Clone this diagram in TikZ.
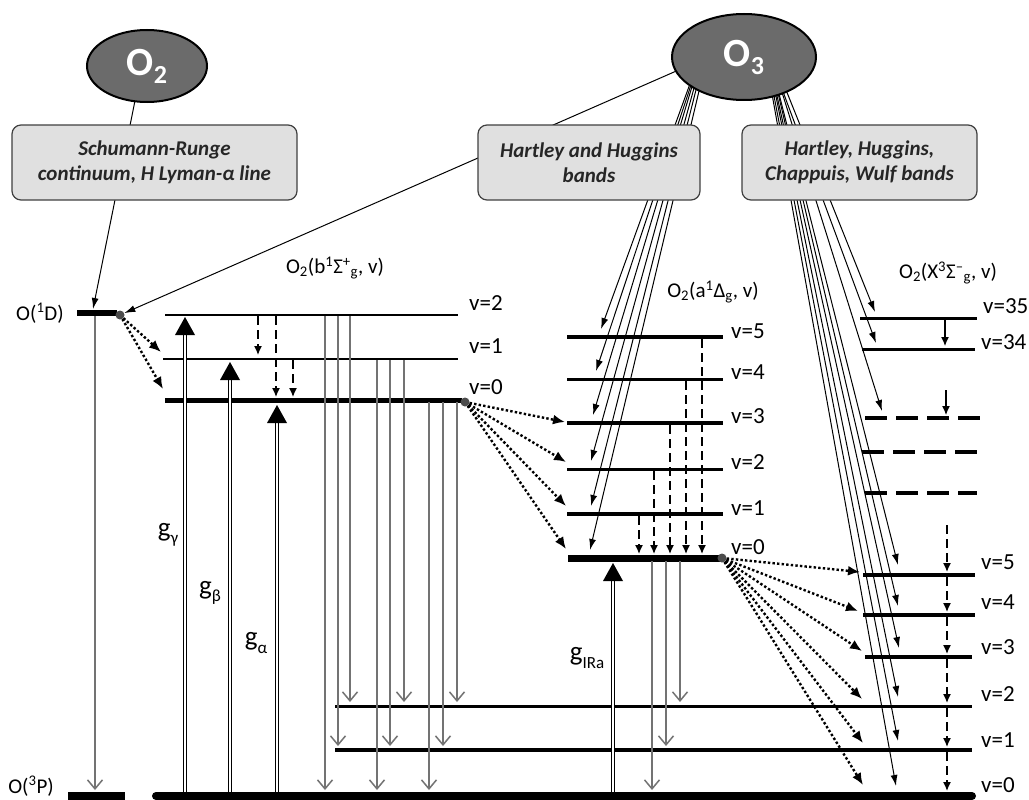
\documentclass[tikz,border=0pt]{standalone}
\usepackage{fontspec}
\setmainfont{Carlito}
\usetikzlibrary{arrows.meta,shapes.geometric}
\pgfdeclarelayer{back}
\pgfdeclarelayer{bg}
\pgfsetlayers{back,bg,main}
\newcommand{\gsub}[1]{g\raisebox{-0.28em}{\fontsize{17}{17}\selectfont #1}}
\begin{document}
\begin{tikzpicture}[x=1pt,y=-1pt,
  lab/.style={inner sep=0pt, font=\fontsize{21}{24}\selectfont},
  vlab/.style={inner sep=0pt, anchor=west, font=\fontsize{23}{24}\selectfont},
  glab/.style={inner sep=0pt, font=\fontsize{27}{28}\selectfont},
  mol/.style={ellipse, draw=black, line width=2pt, fill=black!58, text=white, font=\bfseries\fontsize{40}{40}\selectfont, inner sep=0pt},
  band/.style={draw=black!75, line width=1.2pt, fill=black!12, rounded corners=9pt, align=center, font=\bfseries\itshape\fontsize{21}{25}\selectfont, text=black!85, inner sep=0pt},
  sa/.style={line width=1pt, -{Latex[length=11pt,width=7pt]}},
  ga/.style={draw=black!55, line width=1.5pt, -{Straight Barb[length=9pt,width=15pt]}},
  da/.style={line width=1.4pt, dash pattern=on 9pt off 5pt, -{Latex[length=9pt,width=8pt]}},
  xa/.style={line width=1.2pt, -{Latex[length=9pt,width=8pt]}},
  dta/.style={line width=2.4pt, dash pattern=on 2.4pt off 2.2pt, -{Latex[length=12pt,width=10pt]}},
  dbl/.style={draw=black, line width=1.1pt, double=white, double distance=2pt},
  dot/.style={circle, fill=black!70, inner sep=0pt, minimum size=9pt},
]
\useasboundingbox (0,0) rectangle (1029,800);
\begin{pgfonlayer}{back}
\fill[white] (0,0) rectangle (1029,800);
\end{pgfonlayer}

% ---------- molecules and bands ----------
\node[mol, minimum width=120pt, minimum height=72pt] (O2) at (147,66) {O\raisebox{-0.2em}{\fontsize{26}{26}\selectfont 2}};
\node[mol, minimum width=144pt, minimum height=86pt] (O3) at (744,57) {O\raisebox{-0.2em}{\fontsize{26}{26}\selectfont 3}};
\node[band, minimum width=285pt, minimum height=75pt] (SR) at (154.5,162.5) {Schumann-Runge\\continuum, H Lyman-α line};
\node[band, minimum width=222pt, minimum height=75pt] (HH) at (589,162.5) {Hartley and Huggins\\bands};
\node[band, minimum width=235pt, minimum height=75pt] (HC) at (859.5,162.5) {Hartley, Huggins,\\Chappuis, Wulf bands};

% ---------- state labels ----------
\node[lab] (lb) at (335,268) {O\textsubscript{2}(b\textsuperscript{1}Σ\textsuperscript{+}\textsubscript{g}, v)};
\node[lab] (la) at (713,292) {O\textsubscript{2}(a\textsuperscript{1}Δ\textsubscript{g}, v)};
\node[lab] (lx) at (948,273) {O\textsubscript{2}(X\textsuperscript{3}Σ\textsuperscript{–}\textsubscript{g}, v)};
\node[lab] (l1d) at (40,313) {O(\textsuperscript{1}D)};
\node[lab] (l3p) at (31,786) {O(\textsuperscript{3}P)};

% ---------- levels ----------
\draw[line width=6pt] (77,313) -- (117,313);
\draw[line width=8pt] (68,796) -- (125,796);
\draw[line width=2.2pt] (165,315) -- (458,315);
\draw[line width=2.8pt] (163,359) -- (458,359);
\draw[line width=5pt] (165,400) -- (462,400);
\draw[line width=4.5pt] (567,337) -- (723,337);
\draw[line width=3pt] (567,379) -- (723,379);
\draw[line width=4.5pt] (567,423) -- (723,423);
\draw[line width=3pt] (567,469) -- (723,469);
\draw[line width=4pt] (567,514) -- (723,514);
\draw[line width=7pt] (568,558) -- (720,558);
\draw[line width=3pt] (860,318) -- (977,318);
\draw[line width=3pt] (862,349) -- (975,349);
\draw[line width=4.5pt, dash pattern=on 22pt off 9pt] (865,418) -- (982,418);
\draw[line width=4.5pt, dash pattern=on 22pt off 9pt] (862,452) -- (977,452);
\draw[line width=4.5pt, dash pattern=on 22pt off 9pt] (865,493) -- (977,493);
\draw[line width=4pt] (863,575) -- (975,575);
\draw[line width=4pt] (863,615) -- (975,615);
\draw[line width=4pt] (865,657) -- (972,657);
\draw[line width=3pt] (335,706) -- (972,706);
\draw[line width=3.5pt] (335,750) -- (972,750);
\draw[line width=8pt, line cap=round] (156,796) -- (972,796);

% level labels
\node[vlab] at (469,303) {v=2};
\node[vlab] at (469,346) {v=1};
\node[vlab] at (469,387) {v=0};
\node[vlab] at (731,331) {v=5};
\node[vlab] at (731,372) {v=4};
\node[vlab] at (731,416) {v=3};
\node[vlab] at (731,462) {v=2};
\node[vlab] at (731,508) {v=1};
\node[vlab] at (731,547) {v=0};
\node[vlab] at (983,306) {v=35};
\node[vlab] at (981,342) {v=34};
\node[vlab] at (981,562) {v=5};
\node[vlab] at (981,602) {v=4};
\node[vlab] at (981,647) {v=3};
\node[vlab] at (981,694) {v=2};
\node[vlab] at (981,740) {v=1};
\node[vlab] at (981,785) {v=0};

% dots
\node[dot] (d1) at (120,315) {};
\node[dot] (db) at (465,402) {};
\node[dot] (dA) at (722,558) {};

% ---------- connectors from molecules (behind bands and molecules) ----------
\begin{pgfonlayer}{bg}
\coordinate (s2) at (142,66);
\draw[sa] (s2) -- (93,309);
\draw[sa] (690,65) -- (d1);
\draw[sa] (695,70) -- (601,329);
\draw[sa] (696,70) -- (596,371);
\draw[sa] (697,70) -- (593,415);
\draw[sa] (699,70) -- (591,461);
\draw[sa] (701,70) -- (591,506);
\draw[sa] (704,70) -- (590,550);
\draw[sa] (773,70) -- (898,565);
\draw[sa] (772.6,70) -- (898,606);
\draw[sa] (771.3,70) -- (899,648);
\draw[sa] (770.6,70) -- (898,697);
\draw[sa] (769,70) -- (898,741);
\draw[sa] (767.7,70) -- (896,786);
\draw[sa] (778,70) -- (875,312);
\draw[sa] (775,70) -- (876,343);
\draw[sa] (775,70) -- (882,411);
\end{pgfonlayer}

% ---------- dotted transfers ----------
\draw[dta] (d1) -- (161,352);
\draw[dta] (d1) -- (163,389);
\draw[dta] (db) -- (565,422);
\draw[dta] (db) -- (566,462);
\draw[dta] (db) -- (566,506);
\draw[dta] (db) -- (566,549);
\draw[dta] (dA) -- (860,572);
\draw[dta] (dA) -- (858,611);
\draw[dta] (dA) -- (862,651);
\draw[dta] (dA) -- (862,699);
\draw[dta] (dA) -- (863,743);
\draw[dta] (dA) -- (863,785);

% ---------- dashed relaxation ----------
\draw[da] (258,316) -- (258,355);
\draw[da] (276,316) -- (276,397);
\draw[da] (293,360) -- (293,397);
\draw[da] (702,339) -- (702,554);
\draw[da] (686,381) -- (686,554);
\draw[da] (670,425) -- (670,554);
\draw[da] (654,471) -- (654,554);
\draw[da] (639,516) -- (639,554);
\draw[xa] (945,320) -- (945,346);
\draw[xa] (946,390) -- (946,415);
\draw[da] (947,525) -- (947,572);
\draw[da] (947,577) -- (947,612);
\draw[da] (947,617) -- (947,654);
\draw[da] (947,659) -- (947,703);
\draw[da] (947,708) -- (947,747);
\draw[da] (947,752) -- (947,791);

% ---------- gray emission arrows ----------
\draw[ga] (95,316) -- (95,790);
\draw[ga] (325,316) -- (325,790);
\draw[ga] (338,316) -- (338,746);
\draw[ga] (350,316) -- (350,702);
\draw[ga] (377,360) -- (377,790);
\draw[ga] (390,360) -- (390,746);
\draw[ga] (404,360) -- (404,702);
\draw[ga] (429,402) -- (429,790);
\draw[ga] (443,402) -- (443,746);
\draw[ga] (457,402) -- (457,702);
\draw[ga] (652,561) -- (652,790);
\draw[ga] (666,561) -- (666,746);
\draw[ga] (680,561) -- (680,702);

% ---------- absorption (double) arrows ----------
\draw[dbl] (185,792) -- (185,334);
\fill (175,335) -- (195,335) -- (185,317) -- cycle;
\draw[dbl] (230,792) -- (230,379);
\fill (220,380) -- (240,380) -- (230,362) -- cycle;
\draw[dbl] (277,792) -- (277,422);
\fill (267,423) -- (287,423) -- (277,405) -- cycle;
\draw[dbl] (613,792) -- (613,580);
\fill (603,581) -- (623,581) -- (613,563) -- cycle;

\node[glab] (gg) at (168,535) {\gsub{γ}};
\node[glab] (gb) at (210,593) {\gsub{β}};
\node[glab] (gal) at (256,643) {\gsub{α}};
\node[glab] (gir) at (587,658) {\gsub{IRa}};
\end{tikzpicture}
\end{document}
